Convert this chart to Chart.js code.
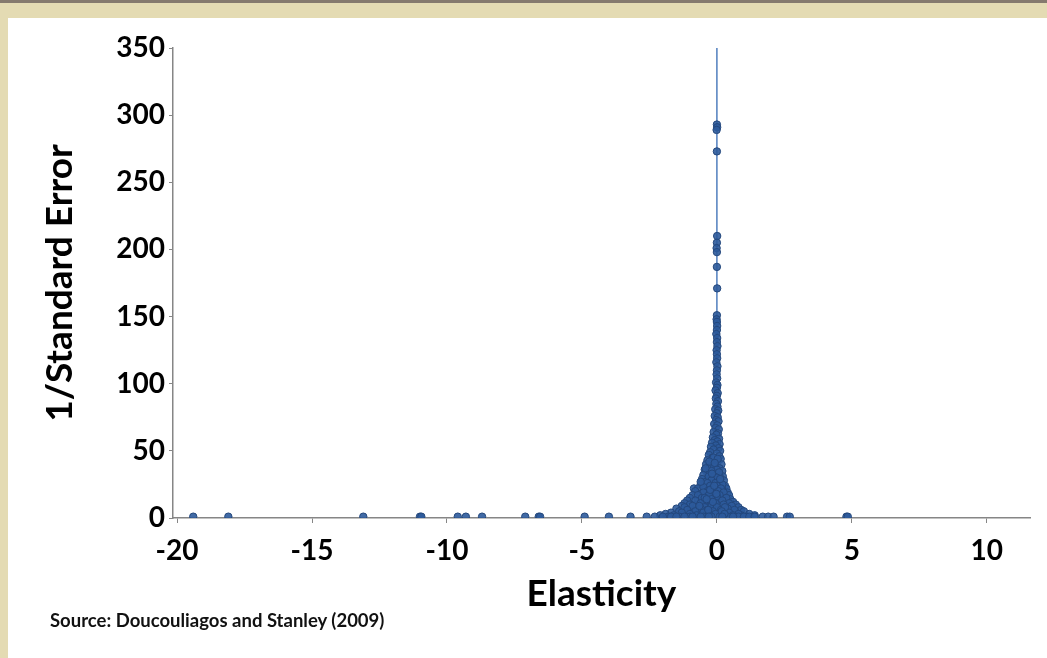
<!DOCTYPE html>
<html lang="en">
<head>
  <meta charset="UTF-8" />
  <title>Funnel plot</title>
  <script src="https://cdn.jsdelivr.net/npm/chart.js"></script>
  <style>
    html, body {
      margin: 0;
      padding: 0;
      width: 1047px;
      height: 658px;
      overflow: hidden;
      background: #e4dbb3;
    }
    .topbar {
      position: absolute;
      left: 0; top: 0;
      width: 1047px; height: 3px;
      background: #857a6e;
    }
    .panel {
      position: absolute;
      left: 8px; top: 18px;
      width: 1039px; height: 640px;
      background: #ffffff;
    }
    .source {
      position: absolute;
      left: 42px; top: 591px;
      font: bold 18.5px Lato, sans-serif;
      color: #111;
    }
  </style>
</head>
<body>
  <div class="topbar"></div>
  <div class="panel">
    <canvas id="funnel" width="1039" height="640"></canvas>
    <div class="source">Source: Doucouliagos and Stanley (2009)</div>
  </div>

  <script>
    // Elasticity estimates (x) and their precision 1/SE (y)
    const elasticity = [
      // tall spike along zero
      0.0, 0.01, -0.01, 0.0, 0.01, 0.0, -0.01, 0.0, 0.0, 0.01,
      0.0, -0.01, 0.0, 0.01, 0.0, -0.02, 0.01, 0.0, 0.02, -0.01,
      0.0, 0.01, -0.02, 0.02, 0.0, -0.01, 0.01, -0.03, 0.02, 0.0,
      // upper funnel
      -0.05, 0.03, 0.0, -0.04, 0.04, -0.02, 0.02, -0.06, 0.05, 0.0,
      -0.08, 0.03, -0.03, 0.06, -0.1, 0.01, -0.05, 0.07, -0.12, 0.04,
      -0.02, -0.15, 0.08, -0.08, 0.02, -0.18, 0.1, -0.04, -0.22, 0.06,
      -0.12, 0.12, -0.25, 0.0, -0.3, 0.09, -0.16, 0.14, -0.35, 0.03,
      -0.2, -0.4, 0.17, -0.08, -0.28, 0.1, -0.45, 0.2, -0.12, -0.35,
      0.05, -0.5, 0.22, -0.22, 0.12, -0.55, -0.05, 0.26, -0.4, 0.15,
      -0.6, -0.15, 0.3, -0.85, -0.3, 0.05, -0.7, 0.35, -0.45, 0.2,
      // lower funnel
      -0.05, -0.8, 0.4, -0.25, -0.6, 0.1, -0.9, 0.45, -0.38, 0.25,
      -1.0, -0.15, 0.5, -0.7, 0.0, -1.1, 0.35, -0.5, 0.6, -0.25,
      -1.2, 0.15, -0.85, 0.7, -0.4, 0.4, -1.3, -0.1, -0.65, 0.8,
      0.25, -1.0, -1.5, 0.55, -0.3, 0.9, -0.8, 0.05, -1.4, 1.0,
      -0.5, 0.35, -1.7, -1.1, 0.7, -0.2, 1.2, -1.9, -0.7, 0.5,
      0.1, -1.3, 1.4, -2.1, -0.4, 0.9, 0.25,
      // dense core
      -0.1, 0.0, -0.2, 0.08, -0.3, -0.1, 0.0, -0.2, 0.1, -0.35,
      -0.05, 0.2, -0.25, 0.0, -0.5, 0.15, -0.15, -0.35, 0.05, 0.25,
      -0.5, -0.1, -0.7, 0.1, -0.3, 0.35, -0.55, 0.0, -0.2, -0.8,
      0.2, -0.4, 0.45, -0.6, -0.05, -1.0, 0.25, -0.2, 0.55, -0.9,
      -0.45, 0.0, -1.2, 0.4, -0.6, 0.15, -0.35, -1.1, 0.65, -0.15,
      -0.8, 0.2, -0.5, -1.3, 0.45, -0.05, -1.0, 0.8, -0.3, -1.6,
      0.6, -0.75, 0.1, -0.5, 0.4, -1.0, 0.8, -0.2, 1.1, -1.4,
      -1.8, -0.12, -0.28, 0.03, -0.42, -0.18, 0.12, -0.08, -0.25, -0.6,
      -0.15, 0.3, -0.45, -0.02, -0.32, 0.18, -0.65, -0.1, 0.28, -0.38,
      // near-zero precision tail
      -19.4, -18.1, -13.1, -11.0, -10.95, -9.6, -9.3, -8.7, -7.1, -6.6,
      -6.55, -4.9, -4.0, -3.2, -2.6, -2.3, -2.0, -1.7, -1.5, -1.2,
      -0.9, -0.6, -0.3, 0.2, 0.6, 1.0, 1.2, 1.4, 1.7, 1.9,
      2.1, 2.6, 2.7, 4.8, 4.85
    ];
    const precision = [
      293, 291, 289, 273, 210, 205, 201, 198, 187, 171,
      151, 148, 146, 143, 140, 137, 134, 131, 128, 125,
      122, 119, 116, 113, 110, 107, 104, 101, 99, 97,
      95, 93, 91, 89, 87, 85, 83, 81, 80, 78,
      76, 75, 73, 72, 70, 69, 67, 66, 64, 63,
      62, 60, 59, 58, 57, 56, 55, 54, 53, 52,
      51, 50, 49, 48, 47, 46, 45, 44, 43, 42,
      41, 40, 40, 39, 38, 37, 36, 35, 34, 33,
      33, 32, 31, 30, 30, 29, 28, 28, 27, 26,
      25, 25, 24, 22, 23, 23, 22, 22, 21, 21,
      20, 20, 19, 19, 18, 18, 17, 17, 16, 16,
      15, 15, 14, 14, 14, 13, 13, 12, 12, 12,
      11, 11, 10, 10, 10, 9, 9, 9, 8, 8,
      8, 7, 7, 7, 7, 6, 6, 6, 5, 5,
      5, 5, 4, 4, 4, 4, 3, 3, 3, 3,
      3, 2, 2, 2, 2, 2, 2,
      38, 36, 35, 34, 31, 31, 30, 28, 27, 26,
      26, 25, 24, 24, 23, 22, 22, 20, 20, 19,
      19, 18, 17, 17, 17, 15, 15, 16, 14, 13,
      13, 13, 11, 11, 11, 10, 10, 9, 9, 9,
      8, 8, 8, 7, 7, 6, 6, 6, 6, 5,
      5, 4, 4, 4, 4, 3, 3, 3, 3, 2,
      2, 2, 1, 1, 1, 1, 1, 1, 1, 1,
      1, 45, 42, 44, 37, 33, 29, 41, 21, 27,
      12, 8, 15, 18, 6, 5, 9, 24, 3, 14,
      1, 1, 1, 1, 1, 1, 1, 1, 1, 1,
      1, 1, 1, 1, 1, 1, 1, 1, 1, 1,
      1, 1, 1, 1, 1, 1, 1, 1, 1, 1,
      1, 1, 1, 1, 1
    ];

    // vertical reference line at zero elasticity
    const zeroLineX = [0, 0];
    const zeroLineY = [0, 350];

    const xTicks = [-20, -15, -10, -5, 0, 5, 10];

    const points = elasticity.map((x, i) => ({ x: x, y: precision[i] }));
    const zeroLine = zeroLineX.map((x, i) => ({ x: x, y: zeroLineY[i] }));

    const axisColor = '#868686';
    const labelFont = { family: 'Lato, sans-serif', size: 28, weight: 'bold' };

    const ctx = document.getElementById('funnel').getContext('2d');
    new Chart(ctx, {
      type: 'scatter',
      data: {
        datasets: [
          {
            label: 'Estimates',
            data: points,
            backgroundColor: 'rgba(44, 90, 155, 0.9)',
            borderColor: '#23477c',
            borderWidth: 1,
            pointRadius: 3.7,
            order: 0
          },
          {
            type: 'line',
            label: 'Zero',
            data: zeroLine,
            borderColor: '#5b86c2',
            borderWidth: 1.6,
            pointRadius: 0,
            fill: false,
            order: 1
          }
        ]
      },
      options: {
        responsive: false,
        animation: false,
        layout: { padding: { top: 30, right: 17, bottom: 42, left: 30 } },
        plugins: {
          legend: { display: false },
          tooltip: { enabled: false }
        },
        scales: {
          x: {
            type: 'linear',
            min: -20.15,
            max: 11.6,
            afterBuildTicks: scale => {
              scale.ticks = xTicks.map(v => ({ value: v }));
            },
            afterFit: scale => { scale.height = 98; },
            grid: { display: true, drawOnChartArea: false, color: axisColor, tickLength: 5 },
            border: { color: axisColor, width: 1.5 },
            ticks: { color: '#000', font: labelFont, padding: 11 },
            title: {
              display: true,
              text: 'Elasticity',
              color: '#000',
              font: { family: 'Lato, sans-serif', size: 37, weight: 'bold' },
              padding: { top: 0, bottom: 0 }
            }
          },
          y: {
            min: 0,
            max: 350,
            afterFit: scale => { scale.width = 135; },
            grid: { display: true, drawOnChartArea: false, color: axisColor, tickLength: 4 },
            border: { color: axisColor, width: 1.5 },
            ticks: { stepSize: 50, color: '#000', font: labelFont, padding: 4 },
            title: {
              display: true,
              text: '1/Standard Error',
              color: '#000',
              font: { family: 'Lato, sans-serif', size: 37, weight: 'bold' },
              padding: { top: 0, bottom: 0 }
            }
          }
        }
      }
    });
  </script>
</body>
</html>
